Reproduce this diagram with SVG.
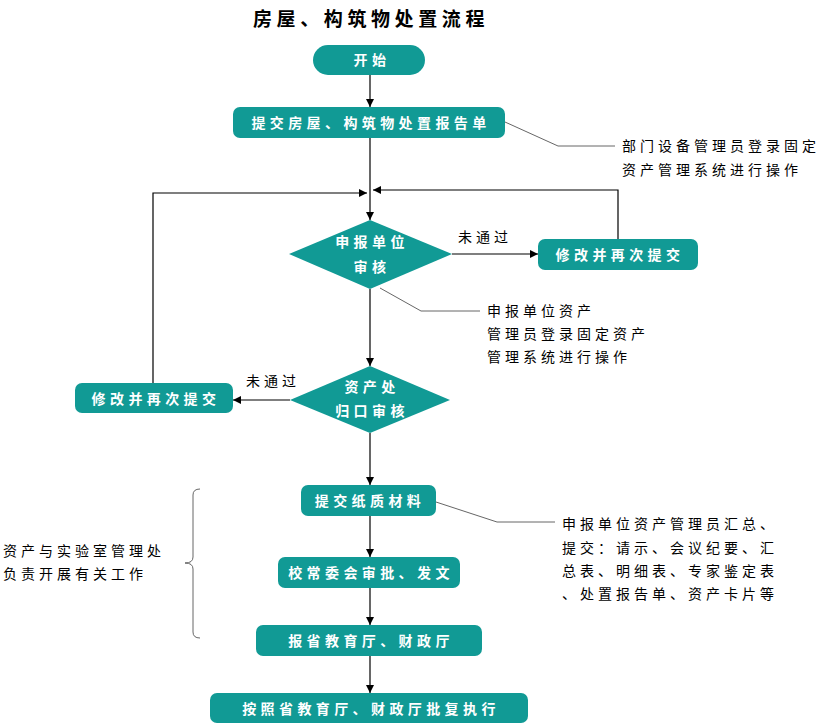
<svg xmlns="http://www.w3.org/2000/svg" width="826" height="725" viewBox="0 0 826 725">
<style>
.box{fill:#119a95;}
.bt{font-family:"Noto Sans CJK SC","Noto Sans",sans-serif;font-size:14px;font-weight:bold;fill:#fff;text-anchor:middle;letter-spacing:4.4px;}
.lt{font-family:"Noto Sans CJK SC","Noto Sans",sans-serif;font-size:14px;fill:#000;letter-spacing:4px;}
.title{font-family:"Noto Sans CJK SC","Noto Sans",sans-serif;font-size:19px;font-weight:bold;fill:#000;text-anchor:middle;letter-spacing:4.6px;}
.ln{fill:none;stroke:#000;stroke-width:1.2;}
.co{fill:none;stroke:#555;stroke-width:0.9;}
</style>
<defs>
<marker id="ah" viewBox="0 0 10 10" refX="10" refY="5" markerWidth="8" markerHeight="8" markerUnits="userSpaceOnUse" orient="auto">
<path d="M0,0 L10,5 L0,10 z" fill="#000"/>
</marker>
</defs>
<rect width="826" height="725" fill="#fff"/>
<text class="title" x="371" y="26">房屋、构筑物处置流程</text>

<g id="connectors">
<line class="ln" x1="370" y1="75" x2="370" y2="107" marker-end="url(#ah)"/>
<line class="ln" x1="370" y1="138" x2="370" y2="220" marker-end="url(#ah)"/>
<polyline class="ln" points="153,383 153,193 367,193" marker-end="url(#ah)"/>
<polyline class="ln" points="618,239 618,190 373,190" marker-end="url(#ah)"/>
<line class="ln" x1="452" y1="254" x2="538" y2="254" marker-end="url(#ah)"/>
<line class="ln" x1="370" y1="289" x2="370" y2="366" marker-end="url(#ah)"/>
<line class="ln" x1="290" y1="400" x2="233" y2="400" marker-end="url(#ah)"/>
<line class="ln" x1="370" y1="433" x2="370" y2="485" marker-end="url(#ah)"/>
<line class="ln" x1="370" y1="516" x2="370" y2="557" marker-end="url(#ah)"/>
<line class="ln" x1="370" y1="588" x2="370" y2="625" marker-end="url(#ah)"/>
<line class="ln" x1="370" y1="656" x2="370" y2="693" marker-end="url(#ah)"/>
<polyline class="co" points="505,122 558,146 615,146"/>
<polyline class="co" points="380,288 421,311 480,311"/>
<polyline class="co" points="436,502 497,522 555,522"/>
<path class="co" d="M200,489 Q193,489 193,495 L193,557 Q193,563 185,563 Q193,563 193,569 L193,632 Q193,638 200,638"/>
</g>

<text class="lt" x="458" y="242">未通过</text>
<text class="lt" x="246" y="386">未通过</text>

<g id="start">
<rect class="box" x="313" y="45" width="112" height="30" rx="15"/>
<text class="bt" x="372" y="65">开始</text>
</g>
<g id="submit-report">
<rect class="box" x="233" y="107" width="272" height="31" rx="7"/>
<text class="bt" x="371" y="128">提交房屋、构筑物处置报告单</text>
</g>
<g id="note-1">
<text class="lt" x="622" y="151">部门设备管理员登录固定</text>
<text class="lt" x="622" y="175">资产管理系统进行操作</text>
</g>
<g id="unit-review">
<polygon class="box" points="370,220 452,254 370,289 289,254"/>
<text class="bt" x="372" y="247">申报单位</text>
<text class="bt" x="372" y="272">审核</text>
</g>
<g id="resubmit-1">
<rect class="box" x="538" y="239" width="160" height="31" rx="7"/>
<text class="bt" x="620" y="260">修改并再次提交</text>
</g>
<g id="note-2">
<text class="lt" x="487" y="316">申报单位资产</text>
<text class="lt" x="487" y="339">管理员登录固定资产</text>
<text class="lt" x="487" y="362">管理系统进行操作</text>
</g>
<g id="asset-review">
<polygon class="box" points="370,366 450,400 370,433 290,400"/>
<text class="bt" x="372" y="392">资产处</text>
<text class="bt" x="372" y="416">归口审核</text>
</g>
<g id="resubmit-2">
<rect class="box" x="75" y="383" width="158" height="30" rx="7"/>
<text class="bt" x="156" y="404">修改并再次提交</text>
</g>
<g id="paper">
<rect class="box" x="301" y="485" width="135" height="31" rx="7"/>
<text class="bt" x="370" y="506">提交纸质材料</text>
</g>
<g id="note-3">
<text class="lt" x="562" y="529">申报单位资产管理员汇总、</text>
<text class="lt" x="562" y="553">提交：请示、会议纪要、汇</text>
<text class="lt" x="562" y="576">总表、明细表、专家鉴定表</text>
<text class="lt" x="562" y="599">、处置报告单、资产卡片等</text>
</g>
<g id="committee">
<rect class="box" x="278" y="557" width="182" height="31" rx="7"/>
<text class="bt" x="371" y="578">校常委会审批、发文</text>
</g>
<g id="report-province">
<rect class="box" x="256" y="625" width="226" height="31" rx="7"/>
<text class="bt" x="371" y="646">报省教育厅、财政厅</text>
</g>
<g id="execute">
<rect class="box" x="210" y="693" width="318" height="30" rx="7"/>
<text class="bt" x="371" y="714">按照省教育厅、财政厅批复执行</text>
</g>
<g id="note-4">
<text class="lt" x="3" y="556">资产与实验室管理处</text>
<text class="lt" x="3" y="579">负责开展有关工作</text>
</g>
</svg>
